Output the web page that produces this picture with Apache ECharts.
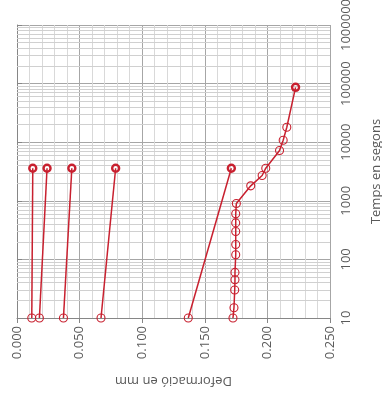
<!DOCTYPE html>
<html>
<head>
<meta charset="utf-8">
<script src="https://cdn.jsdelivr.net/npm/echarts@6/dist/echarts.min.js"></script>
<style>
  html, body { margin: 0; padding: 0; background: #fff; }
  #chart { width: 382px; height: 405px; }
</style>
</head>
<body>
<div id="chart"></div>
<script>
// temps (s) et deformació (mm)
var tempsCurt = [10, 3600];
var def1 = [0.0118, 0.0126];
var def2 = [0.0179, 0.0240];
var def3 = [0.0371, 0.0438];
var def4 = [0.0671, 0.0788];
var def5 = [0.1368, 0.1712];

var temps6 = [10, 15, 30, 45, 60, 120, 180, 300, 420, 600, 900, 1800, 2700, 3600, 7200, 10800, 18000, 86400];
var def6 = [0.1725, 0.1733, 0.1739, 0.1741, 0.1741, 0.1747, 0.1747, 0.1747, 0.1747, 0.1747, 0.1752,
            0.1867, 0.1958, 0.1987, 0.2097, 0.2126, 0.2155, 0.2225];

// línies secundàries de la graella (escala log)
var menors = [];
[10, 100, 1000, 10000, 100000].forEach(function (d) {
	for (var k = 2; k <= 9; k++) menors.push(d * k);
});

var vermell = '#c8202f';
var gris = '#595959';
var font = 'Open Sans';

function punts(xs, ts, gruix) {
	return xs.map(function (x, i) {
		var p = { value: [x, ts[i]] };
		// últim punt: diversos punts solapats
		if (gruix && i === xs.length - 1) {
			p.itemStyle = { borderWidth: 2.4 };
			p.symbolSize = 7;
		}
		return p;
	});
}

function serie(xs, ts, gruix) {
	return {
		type: 'line',
		data: punts(xs, ts, gruix),
		symbol: 'circle',
		symbolSize: 8,
		lineStyle: { color: vermell, width: 1.5 },
		itemStyle: { color: 'rgba(255,255,255,0)', borderColor: vermell, borderWidth: 1.1 },
		z: 5,
		animation: false
	};
}

var chart = echarts.init(document.getElementById('chart'));
var option = {
	animation: false,
	grid: { left: 17, right: 52, top: 25, bottom: 87, outerBoundsMode: 'none', containLabel: false },
	xAxis: {
		type: 'value',
		min: 0,
		max: 0.25,
		interval: 0.05,
		name: 'Deformació en mm',
		nameLocation: 'middle',
		nameRotate: 180,
		nameGap: 56,
		nameTextStyle: { color: gris, fontFamily: font, fontSize: 13 },
		axisLine: { show: true, lineStyle: { color: '#868686' } },
		axisTick: { show: true, length: 5, lineStyle: { color: '#868686' } },
		axisLabel: {
			rotate: 90,
			margin: 8,
			color: gris,
			fontFamily: font,
			fontSize: 13,
			formatter: function (v) { return v.toFixed(3); }
		},
		splitLine: { show: true, lineStyle: { color: '#a6a6a6', width: 1 } },
		minorTick: { show: false, splitNumber: 5 },
		minorSplitLine: { show: true, lineStyle: { color: '#d9d9d9', width: 1 } }
	},
	yAxis: {
		type: 'log',
		logBase: 10,
		min: 10,
		max: 1000000,
		position: 'right',
		name: 'Temps en segons',
		nameLocation: 'middle',
		nameRotate: 90,
		nameGap: 40,
		nameTextStyle: { color: gris, fontFamily: font, fontSize: 13 },
		axisLine: { show: true, lineStyle: { color: '#868686' } },
		axisTick: { show: true, length: 5, lineStyle: { color: '#868686' } },
		axisLabel: {
			rotate: 90,
			margin: 10,
			color: gris,
			fontFamily: font,
			fontSize: 13,
			formatter: function (v) { return String(Math.round(v)); }
		},
		splitLine: { show: true, lineStyle: { color: '#a6a6a6', width: 1 } }
	},
	series: [
		{
			type: 'line',
			data: [],
			silent: true,
			z: 1,
			markLine: {
				silent: true,
				symbol: 'none',
				label: { show: false },
				lineStyle: { color: '#d0d0d0', width: 1, type: 'solid' },
				data: menors.map(function (t) { return { yAxis: t }; })
			}
		},
		serie(def1, tempsCurt, true),
		serie(def2, tempsCurt, true),
		serie(def3, tempsCurt, true),
		serie(def4, tempsCurt, true),
		serie(def5, tempsCurt, true),
		serie(def6, temps6, true)
	]
};
chart.setOption(option);
</script>
</body>
</html>
